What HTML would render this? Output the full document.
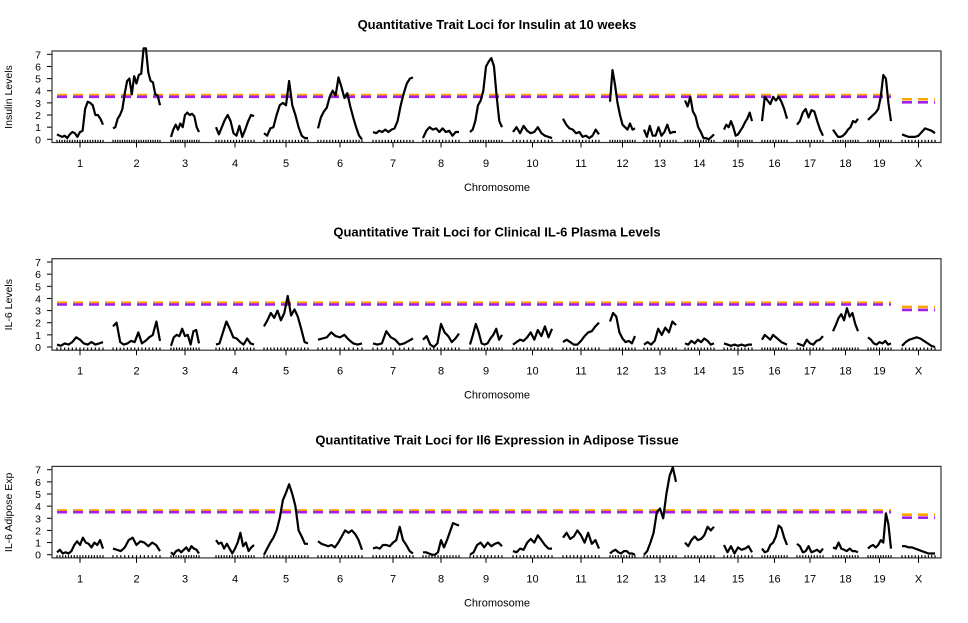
<!DOCTYPE html>
<html><head><meta charset="utf-8"><style>
body{margin:0;background:#fff}
svg{display:block;font-family:"Liberation Sans",Arial,sans-serif}
</style></head><body>
<svg id="chart" width="968" height="623" viewBox="0 0 968 623"></svg>
<script>
const chromNames=["1","2","3","4","5","6","7","8","9","10","11","12","13","14","15","16","17","18","19","X"];
const chromStart=[57,113,171,216,264,318,373,423,470,513,563,610,644,685,724,762,797,833,868,902];
const chromEnd=[103,160,199,254,308,362,413,459,502,552,599,635,676,714,752,787,823,858,891,935];
const panelTitles=["Quantitative Trait Loci for Insulin at 10 weeks","Quantitative Trait Loci for Clinical IL-6 Plasma Levels","Quantitative Trait Loci for Il6 Expression in Adipose Tissue"];
const yTitles=["Insulin Levels","IL-6 Levels","IL-6 Adipose Exp"];
const yTicks=[0,1,2,3,4,5,6,7];
const thrAutoOrange=3.65, thrAutoPurple=3.5, thrXOrange=3.3, thrXPurple=3.05;
const lodInsulin=[
[0.4,0.3,0.2,0.3,0.1,0.4,0.6,0.5,0.2,0.6,0.7,2.5,3.1,3.0,2.8,2.0,2.0,1.7,1.2],
[0.9,1.0,1.7,2.0,2.5,3.8,4.8,5.0,3.7,5.2,4.6,5.3,5.4,7.5,7.5,5.5,4.8,4.7,3.7,3.6,2.8],
[0.2,0.8,1.2,0.8,1.3,1.0,2.0,2.2,2.0,2.1,1.9,1.0,0.6],
[1.0,0.4,1.0,1.6,2.0,1.5,0.5,0.3,1.1,0.2,0.8,1.5,2.0,1.9],
[0.5,0.3,0.9,1.0,2.0,2.8,3.0,2.8,4.8,2.8,2.0,1.0,0.3,0.1,0.1],
[0.9,1.8,2.3,2.6,3.5,4.0,3.6,5.1,4.3,3.4,3.8,2.7,1.8,1.0,0.3,0.0],
[0.6,0.5,0.7,0.6,0.8,0.6,0.8,0.9,1.5,2.8,3.8,4.6,5.0,5.1],
[0.1,0.7,1.0,0.8,0.9,0.6,0.9,0.6,0.7,0.3,0.6,0.6],
[0.6,0.8,1.5,2.8,3.2,4.0,6.0,6.4,6.7,6.0,3.5,1.5,1.0],
[0.6,1.0,0.5,1.1,0.7,0.5,0.6,1.0,0.5,0.3,0.2,0.1],
[1.7,1.2,0.9,0.8,0.5,0.6,0.2,0.3,0.1,0.3,0.8,0.4],
[3.1,5.7,4.5,3.0,2.0,1.2,1.0,0.8,1.3,0.8,0.9],
[0.8,0.2,1.1,0.3,0.3,1.0,0.3,0.6,1.2,0.5,0.6,0.6],
[3.2,2.7,3.5,2.3,1.9,1.0,0.6,0.1,0.1,0.0,0.2,0.4],
[0.8,1.2,1.0,1.5,1.0,0.3,0.4,0.7,1.0,1.4,1.7,2.2,1.5],
[1.5,3.5,3.2,2.9,3.5,3.2,3.5,3.1,2.5,1.7],
[1.2,1.5,2.2,2.5,1.8,2.4,2.3,1.5,0.8,0.3],
[0.8,0.5,0.2,0.2,0.3,0.5,0.8,1.0,1.5,1.4,1.7],
[1.6,1.8,2.0,2.2,2.5,3.5,5.3,5.0,3.0,1.5],
[0.4,0.3,0.2,0.2,0.2,0.3,0.6,0.9,0.8,0.7,0.5]];
const lodPlasma=[
[0.2,0.1,0.3,0.2,0.4,0.8,0.6,0.3,0.2,0.4,0.2,0.3,0.4],
[1.7,2.0,0.4,0.2,0.3,0.5,0.4,1.2,0.3,0.5,0.8,1.0,2.1,0.5],
[0.1,0.8,1.0,0.9,1.5,0.9,1.0,0.2,1.3,1.4,0.3],
[0.2,0.3,1.2,2.1,1.5,0.8,0.7,0.4,0.2,0.7,0.3,0.2],
[1.7,2.2,2.8,2.4,3.0,2.2,2.8,4.2,2.6,3.1,2.5,1.5,0.4,0.3],
[0.6,0.7,0.8,1.2,0.9,0.8,1.0,0.6,0.3,0.2,0.3],
[0.3,0.2,0.3,1.3,0.8,0.6,0.2,0.3,0.5,0.7],
[0.6,0.9,0.2,0.0,0.3,1.9,1.2,0.9,0.4,0.7,1.1],
[0.2,1.0,1.9,1.2,0.3,0.2,0.3,0.7,1.0,1.5,0.6,1.0],
[0.2,0.4,0.6,0.5,0.8,1.2,0.6,1.4,0.9,1.7,0.8,1.5],
[0.4,0.6,0.4,0.2,0.2,0.5,0.9,1.2,1.3,1.7,2.0],
[2.1,2.8,2.5,1.2,0.7,0.4,0.5,0.3,0.9],
[0.2,0.4,0.2,0.5,1.5,1.0,1.6,1.2,2.1,1.8],
[0.3,0.2,0.5,0.3,0.6,0.4,0.7,0.5,0.2,0.3],
[0.3,0.2,0.1,0.2,0.1,0.2,0.1,0.2,0.2],
[0.6,1.0,0.8,0.6,1.0,0.8,0.6,0.4,0.3,0.2],
[0.3,0.2,0.1,0.6,0.3,0.2,0.5,0.6,0.9],
[1.3,1.8,2.4,2.7,2.2,3.2,2.5,2.8,1.9,1.3],
[0.8,0.6,0.3,0.2,0.4,0.3,0.5,0.2,0.3],
[0.1,0.4,0.6,0.7,0.8,0.7,0.5,0.3,0.1,0.0]];
const lodAdipose=[
[0.2,0.4,0.1,0.2,0.1,0.3,0.8,1.1,0.8,1.4,1.0,0.9,0.6,1.0,0.8,1.2,0.5],
[0.5,0.4,0.3,0.6,1.2,1.4,0.8,1.1,1.0,0.7,1.0,0.8,0.3],
[0.2,0.0,0.3,0.4,0.2,0.4,0.6,0.3,0.7,0.5,0.4,0.1],
[1.2,0.9,1.0,0.5,0.9,0.5,0.1,0.5,1.0,1.8,0.7,1.0,0.3,0.6,0.8],
[0.0,0.5,1.0,1.4,2.0,3.0,4.5,5.1,5.8,5.0,4.0,2.0,1.5,0.9,0.9],
[1.1,0.9,0.8,0.7,0.8,0.6,1.0,1.5,2.0,1.8,2.0,1.7,1.2,0.4],
[0.5,0.6,0.5,0.8,0.8,0.7,1.0,1.2,2.3,1.2,0.8,0.3,0.1],
[0.2,0.2,0.1,0.0,0.0,0.2,1.2,0.6,1.2,1.9,2.6,2.5,2.4],
[0.0,0.2,0.8,1.0,0.6,1.0,0.7,0.9,1.0,0.7],
[0.3,0.2,0.5,0.4,1.0,1.3,1.0,1.6,1.2,0.8,0.5,0.5],
[1.4,1.8,1.3,1.5,2.0,1.6,1.0,1.8,0.9,1.2,0.5],
[0.1,0.3,0.4,0.2,0.1,0.3,0.3,0.1,0.1,0.0],
[0.0,0.3,1.0,1.8,3.5,3.8,3.0,5.0,6.5,7.2,6.0],
[1.0,0.7,1.2,1.5,1.2,1.3,1.6,2.3,2.0,2.3],
[0.8,0.2,0.7,0.1,0.6,0.4,0.5,0.7,0.2],
[0.5,0.2,0.3,0.8,1.0,1.5,2.4,2.2,1.4,0.8],
[0.9,0.7,0.2,0.3,0.7,0.2,0.3,0.4,0.2,0.5],
[0.6,0.5,1.0,0.5,0.4,0.3,0.5,0.3,0.3,0.2],
[0.5,0.7,0.8,0.6,0.8,1.2,1.0,3.4,2.5,0.5],
[0.7,0.7,0.6,0.6,0.5,0.4,0.3,0.2,0.1,0.1,0.1]];
const panels=[lodInsulin,lodPlasma,lodAdipose];

const NS="http://www.w3.org/2000/svg";
const svg=document.getElementById('chart');
function mk(tag,attrs,parent){const e=document.createElementNS(NS,tag);for(const k in attrs)e.setAttribute(k,attrs[k]);(parent||svg).appendChild(e);return e;}
const boxL=52,boxR=941,panelGap=207.7;
panels.forEach((data,p)=>{
  const off=p*panelGap;
  const y0=139.3+off, unit=12.14;
  const yS=v=>y0-v*unit;
  const g=mk('g',{});
  
  
  const t=mk('text',{x:497,y:29+off,'text-anchor':'middle','font-size':13,'font-weight':'bold',fill:'#000'},g);
  t.textContent=panelTitles[p];
  
  
  const ya=mk('g',{},g);
  
  
  yTicks.forEach(v=>{
    mk('line',{x1:47,x2:52,y1:yS(v),y2:yS(v),stroke:'#000'},ya);
    const l=mk('text',{x:41,y:yS(v)+4,'text-anchor':'end','font-size':10.5},ya);
    l.textContent=v;
    
    
  });
  const yt=mk('text',{x:0,y:0,'text-anchor':'middle','font-size':10.5,transform:`translate(12,${97+off}) rotate(-90)`},g);
  yt.textContent=yTitles[p];
  
  
  const bx=mk('rect',{x:boxL,y:51+off,width:boxR-boxL,height:91.5,fill:'none',stroke:'#333','stroke-width':1.2},g);
  
  
  chromNames.forEach((c,i)=>{
    const m=(chromStart[i]+chromEnd[i])/2;
    mk('line',{x1:m,x2:m,y1:142.5+off,y2:147.5+off,stroke:'#000'},g);
    const l=mk('text',{x:m,y:167+off,'text-anchor':'middle','font-size':11},g);
    l.textContent=c;
    
    
  });
  const xt=mk('text',{x:497,y:191+off,'text-anchor':'middle','font-size':11},g);
  xt.textContent='Chromosome';
  
  
  const th=[[chromStart[0],chromEnd[18],thrAutoOrange,'#ffa500'],[chromStart[0],chromEnd[18],thrAutoPurple,'#a020f0'],[chromStart[19],chromEnd[19],thrXOrange,'#ffa500'],[chromStart[19],chromEnd[19],thrXPurple,'#a020f0']];
  th.forEach(a=>{
    const ln=mk('line',{x1:a[0],x2:a[1],y1:yS(a[2]),y2:yS(a[2]),stroke:a[3],'stroke-width':2.6,'stroke-dasharray':'10 6'},g);
    
    
  });
  data.forEach((vals,i)=>{
    const s=chromStart[i],e=chromEnd[i],n=vals.length;
    const pts=vals.map((v,k)=>`${(s+(e-s)*k/(n-1)).toFixed(1)},${yS(v).toFixed(1)}`).join(' ');
    const pl=mk('polyline',{points:pts,fill:'none',stroke:'#000','stroke-width':2.2,'stroke-linejoin':'round'},g);
    
    
    for(let k=0;k<n;k++){
      const x=s+(e-s)*k/(n-1);
      mk('line',{x1:x,x2:x,y1:y0+0.5,y2:y0+3,stroke:'#000','stroke-width':1.2},g);
    }
  });
});
</script>
</body></html>
